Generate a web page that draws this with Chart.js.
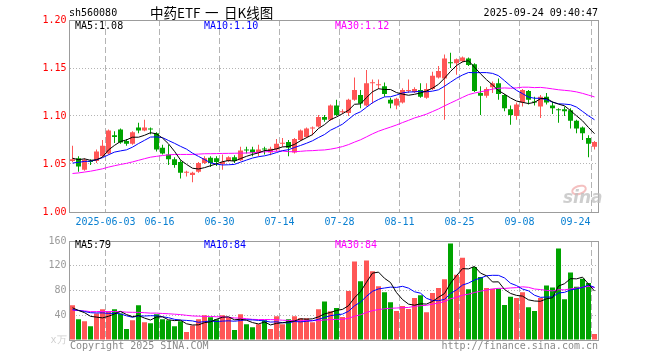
<!DOCTYPE html>
<html>
<head>
<meta charset="utf-8">
<script src="https://cdn.jsdelivr.net/npm/chart.js@4.4.1/dist/chart.umd.min.js"></script>
<style>
  html, body { margin: 0; padding: 0; background: #fff; }
  #wrap { position: relative; width: 660px; height: 360px; }
  #k { position: absolute; left: 0; top: 0; }
  #v { position: absolute; left: 0; top: 232px; }
</style>
</head>
<body>
<div id="wrap">
  <canvas id="k" width="660" height="232"></canvas>
  <canvas id="v" width="660" height="128"></canvas>
</div>
<script>
// trading days shown, 2025-05-23 .. 2025-09-24
const dates = [
  "05-23", "05-26", "05-27", "05-28", "05-29", "05-30",
  "06-03", "06-04", "06-05", "06-06", "06-09", "06-10", "06-11", "06-12", "06-13",
  "06-16", "06-17", "06-18", "06-19", "06-20", "06-23", "06-24", "06-25", "06-26", "06-27", "06-30",
  "07-01", "07-02", "07-03", "07-04", "07-07", "07-08", "07-09", "07-10", "07-11",
  "07-14", "07-15", "07-16", "07-17", "07-18", "07-21", "07-22", "07-23", "07-24", "07-25",
  "07-28", "07-29", "07-30", "07-31", "08-01", "08-04", "08-05", "08-06", "08-07", "08-08",
  "08-11", "08-12", "08-13", "08-14", "08-15", "08-18", "08-19", "08-20", "08-21", "08-22",
  "08-25", "08-26", "08-27", "08-28", "08-29", "09-01", "09-02", "09-03", "09-04", "09-05",
  "09-08", "09-09", "09-10", "09-11", "09-12", "09-15", "09-16", "09-17", "09-18", "09-19",
  "09-22", "09-23", "09-24"
];
const xTickLabels = ["2025-06-03", "06-16", "06-30", "07-14", "07-28", "08-11", "08-25", "09-08", "09-24"];

const open = [
  1.053, 1.056, 1.044, 1.053, 1.053, 1.058, 1.061, 1.080, 1.086, 1.074,
  1.071, 1.088, 1.085, 1.087, 1.082, 1.067, 1.060, 1.055, 1.052, 1.041,
  1.0385, 1.042, 1.051, 1.0566, 1.056, 1.050, 1.053, 1.057, 1.054, 1.065,
  1.065, 1.062, 1.066, 1.062, 1.065, 1.071, 1.073, 1.062, 1.075, 1.078,
  1.087, 1.089, 1.099, 1.096, 1.111, 1.104, 1.103, 1.117, 1.122, 1.111,
  1.134, 1.132, 1.131, 1.117, 1.111, 1.114, 1.126, 1.125, 1.127, 1.119,
  1.128, 1.140, 1.139, 1.156, 1.155, 1.157, 1.160, 1.154, 1.124, 1.121,
  1.130, 1.134, 1.122, 1.107, 1.100, 1.114, 1.126, 1.115, 1.110, 1.120,
  1.111, 1.107, 1.107, 1.106, 1.095, 1.088, 1.077, 1.068
];
const close = [
  1.055, 1.0475, 1.0545, 1.052, 1.063, 1.069, 1.085, 1.078, 1.0725, 1.071,
  1.083, 1.085, 1.088, 1.086, 1.065, 1.061, 1.055, 1.049, 1.041, 1.042,
  1.041, 1.051, 1.056, 1.051, 1.052, 1.052, 1.057, 1.053, 1.064, 1.064,
  1.062, 1.065, 1.065, 1.066, 1.071, 1.072, 1.067, 1.076, 1.085, 1.087,
  1.088, 1.099, 1.096, 1.111, 1.101, 1.105, 1.117, 1.127, 1.113, 1.134,
  1.135, 1.133, 1.123, 1.113, 1.118, 1.127, 1.127, 1.128, 1.120, 1.128,
  1.142, 1.147, 1.160, 1.155, 1.159, 1.161, 1.153, 1.126, 1.121, 1.128,
  1.134, 1.123, 1.108, 1.101, 1.112, 1.127, 1.117, 1.114, 1.120, 1.114,
  1.108, 1.106, 1.105, 1.095, 1.087, 1.082, 1.071, 1.073
];
const high = [
  1.069, 1.058, 1.056, 1.055, 1.065, 1.075, 1.086, 1.084, 1.087, 1.076,
  1.084, 1.093, 1.096, 1.088, 1.083, 1.070, 1.070, 1.057, 1.054, 1.043,
  1.042, 1.052, 1.058, 1.058, 1.058, 1.060, 1.058, 1.059, 1.068, 1.068,
  1.068, 1.070, 1.068, 1.068, 1.076, 1.077, 1.075, 1.077, 1.086, 1.088,
  1.089, 1.101, 1.101, 1.112, 1.117, 1.107, 1.118, 1.140, 1.127, 1.148,
  1.138, 1.138, 1.135, 1.119, 1.119, 1.129, 1.138, 1.130, 1.134, 1.134,
  1.146, 1.152, 1.164, 1.166, 1.160, 1.162, 1.161, 1.155, 1.131, 1.130,
  1.136, 1.139, 1.123, 1.111, 1.114, 1.128, 1.127, 1.120, 1.122, 1.124,
  1.115, 1.108, 1.110, 1.108, 1.096, 1.089, 1.080, 1.074
];
const low = [
  1.052, 1.042, 1.043, 1.049, 1.051, 1.057, 1.060, 1.072, 1.071, 1.069,
  1.070, 1.082, 1.084, 1.081, 1.063, 1.060, 1.049, 1.046, 1.035, 1.037,
  1.031, 1.041, 1.050, 1.047, 1.048, 1.044, 1.052, 1.051, 1.053, 1.061,
  1.058, 1.058, 1.060, 1.059, 1.063, 1.068, 1.058, 1.061, 1.074, 1.077,
  1.080, 1.088, 1.094, 1.095, 1.100, 1.102, 1.100, 1.116, 1.108, 1.110,
  1.113, 1.128, 1.120, 1.108, 1.107, 1.113, 1.124, 1.124, 1.119, 1.118,
  1.127, 1.139, 1.096, 1.150, 1.143, 1.156, 1.152, 1.125, 1.101, 1.119,
  1.124, 1.117, 1.105, 1.091, 1.096, 1.110, 1.112, 1.111, 1.098, 1.112,
  1.102, 1.093, 1.100, 1.087, 1.082, 1.075, 1.057, 1.065
];
// volume, 万
const volume = [
  56, 33.6, 30.4, 22.4, 42.7, 49.6, 46.4, 49.6, 42.7, 17.6,
  32, 56, 28.8, 27.2, 41.6, 33.6, 32, 22.4, 30.4, 12.8,
  23.5, 33.6, 40, 36.8, 33.6, 40, 36.8, 16, 41.6, 25.6,
  20.8, 25.6, 32, 17.6, 38.4, 25.6, 33.6, 38.4, 35.2, 35.2,
  28.8, 49.6, 62.4, 46.4, 51.7, 37.3, 79, 127, 95, 128.5,
  111, 87, 77, 61, 47, 55, 50, 68, 72.5, 45,
  76, 84, 98, 156, 105.6, 133, 82, 118, 102, 84,
  83, 83, 56.5, 70, 68, 77, 53, 47, 68, 88,
  85, 148, 66, 109, 86, 99, 92, 9.6
];
// estimated closes / volumes of the 29 sessions before the window (only feed the MA lines)
const earlierClose = [
  1.030, 1.028, 1.025, 1.027, 1.030, 1.032, 1.035, 1.033, 1.036, 1.038,
  1.035, 1.037, 1.040, 1.038, 1.036, 1.034, 1.037, 1.040, 1.042, 1.041,
  1.040, 1.045, 1.050, 1.048, 1.047, 1.055, 1.050, 1.060, 1.060
];
const earlierVolume = [
  52, 45, 60, 41, 38, 55, 47, 50, 43, 39,
  58, 44, 49, 40, 52, 46, 43, 50, 48, 55,
  44, 50, 41, 47, 48, 55, 48, 52, 49
];
const priceLegend = ["MA5:1.08", "MA10:1.10", "MA30:1.12"];
const volumeLegend = ["MA5:79", "MA10:84", "MA30:84"];

const RED = "#ff5656";
const GREEN = "#00a400";
const GRID = "#b4b4b4";
const MONO = '"DejaVu Sans Mono", monospace';

function movingAvg(prior, vals, n) {
  const all = prior.concat(vals);
  return vals.map(function (_, i) {
    const end = prior.length + i + 1;
    let s = 0;
    for (let j = end - n; j < end; j++) s += all[j];
    return s / n;
  });
}

const colors = close.map((c, i) => (c >= open[i] ? RED : GREEN));
const bodies = open.map((o, i) => [o, close[i]]);
const wicks = low.map((l, i) => [l, high[i]]);

// grid lines sit on the left edge of the labelled sessions
const tickIndex = xTickLabels.map(t => dates.indexOf(t.slice(-5)));

function xGridColor(ctx) {
  return tickIndex.indexOf(ctx.index) > -1 ? GRID : "rgba(0,0,0,0)";
}
function yGridColor(ctx) {
  return ctx.index > 0 && ctx.index < 4 ? GRID : "rgba(0,0,0,0)";
}

function frame(chart) {
  const ctx = chart.ctx, ca = chart.chartArea;
  const x0 = Math.floor(ca.left) + 0.5, y0 = Math.floor(ca.top) + 0.5;
  const x1 = Math.ceil(ca.right) + 0.5, y1 = Math.floor(ca.bottom) + 0.5;
  ctx.save();
  ctx.strokeStyle = "#9c9c9c";
  ctx.lineWidth = 1;
  ctx.strokeRect(x0, y0, x1 - x0, y1 - y0);
  ctx.restore();
}

function legend(chart, texts, y) {
  const ctx = chart.ctx;
  const xs = [75, 204, 335];
  const cols = ["#000000", "#0000ff", "#ff00ff"];
  ctx.save();
  ctx.font = "10px " + MONO;
  ctx.textBaseline = "middle";
  ctx.textAlign = "left";
  texts.forEach((t, i) => {
    ctx.fillStyle = cols[i];
    ctx.fillText(t, xs[i], y);
  });
  ctx.restore();
}

const lineDefaults = { type: "line", borderWidth: 1, pointRadius: 0, tension: 0, order: 0 };

const priceDecor = {
  id: "priceDecor",
  afterDraw(chart) {
    const ctx = chart.ctx;
    const xs = chart.scales.x;
    frame(chart);
    legend(chart, priceLegend, 26);

    ctx.save();
    // header
    ctx.fillStyle = "#000";
    ctx.textBaseline = "middle";
    ctx.font = "10px " + MONO;
    ctx.textAlign = "left";
    ctx.fillText("sh560080", 69, 13);
    ctx.textAlign = "right";
    ctx.fillText("2025-09-24 09:40:47", 598, 13);
    ctx.font = '13.5px "Noto Sans CJK SC"';
    ctx.textAlign = "left";
    ctx.fillText("中药ETF", 150, 13);
    ctx.fillText("一", 205, 13);
    ctx.fillText("日K线图", 224, 13);

    // date labels, centred on their grid line, last one kept inside
    const half = (xs.getPixelForValue(1) - xs.getPixelForValue(0)) / 2;
    ctx.font = "10px " + MONO;
    ctx.fillStyle = "#0a80d2";
    xTickLabels.forEach((t, k) => {
      const x = xs.getPixelForValue(tickIndex[k]) - half;
      if (k === xTickLabels.length - 1) {
        ctx.textAlign = "right";
        ctx.fillText(t, x - 1, 222);
      } else {
        ctx.textAlign = "center";
        ctx.fillText(t, x, 222);
      }
    });

    // sina watermark
    ctx.strokeStyle = "rgba(235,140,140,0.55)";
    ctx.lineWidth = 2;
    ctx.beginPath();
    ctx.ellipse(579, 190, 7, 4, -0.3, 0, Math.PI * 2);
    ctx.stroke();
    ctx.font = 'italic bold 17px "DejaVu Sans"';
    ctx.fillStyle = "rgba(190,190,190,0.75)";
    ctx.textAlign = "left";
    ctx.fillText("sina", 563, 199);
    ctx.restore();
  }
};

const volumeDecor = {
  id: "volumeDecor",
  afterDraw(chart) {
    const ctx = chart.ctx;
    frame(chart);
    legend(chart, volumeLegend, 13.5);
    ctx.save();
    ctx.font = "10px " + MONO;
    ctx.textBaseline = "middle";
    ctx.fillStyle = "#8a8a8a";
    ctx.textAlign = "left";
    ctx.fillText("Copyright 2025 SINA.COM", 70, 114);
    ctx.textAlign = "right";
    ctx.fillText("http://finance.sina.com.cn", 598, 114);
    ctx.restore();
  }
};

function xScale() {
  return {
    type: "category",
    offset: true,
    grid: { offset: true, color: xGridColor, lineWidth: 1, drawTicks: false },
    border: { display: false, dash: [6, 3] },
    ticks: { display: false, autoSkip: false },
    afterFit(scale) { scale.height = 20; }
  };
}

new Chart(document.getElementById("k").getContext("2d"), {
  type: "bar",
  data: {
    labels: dates,
    datasets: [
      Object.assign({ data: movingAvg(earlierClose, close, 5), borderColor: "#000000" }, lineDefaults),
      Object.assign({ data: movingAvg(earlierClose, close, 10), borderColor: "#0000ff" }, lineDefaults),
      Object.assign({ data: movingAvg(earlierClose, close, 30), borderColor: "#ff00ff" }, lineDefaults),
      {
        data: bodies, backgroundColor: colors, barPercentage: 5 / 6, categoryPercentage: 1,
        minBarLength: 1, grouped: false, inflateAmount: 0, order: 1
      },
      {
        data: wicks, backgroundColor: colors, barThickness: 1,
        grouped: false, inflateAmount: 0, order: 2
      }
    ]
  },
  options: {
    responsive: false,
    animation: false,
    events: [],
    layout: { padding: { left: 0, right: 62.5, top: 20, bottom: 0 } },
    plugins: { legend: { display: false }, tooltip: { enabled: false } },
    scales: {
      x: xScale(),
      y: {
        min: 1.0, max: 1.2,
        grid: { color: yGridColor, drawTicks: false },
        border: { display: false, dash: [1, 2] },
        ticks: {
          stepSize: 0.05, padding: 3, color: "#ff0000",
          font: { family: MONO, size: 10 },
          callback: v => Number(v).toFixed(2)
        },
        afterFit(scale) { scale.width = 69.5; }
      }
    }
  },
  plugins: [priceDecor]
});

new Chart(document.getElementById("v").getContext("2d"), {
  type: "bar",
  data: {
    labels: dates,
    datasets: [
      Object.assign({ data: movingAvg(earlierVolume, volume, 5), borderColor: "#000000" }, lineDefaults),
      Object.assign({ data: movingAvg(earlierVolume, volume, 10), borderColor: "#0000ff" }, lineDefaults),
      Object.assign({ data: movingAvg(earlierVolume, volume, 30), borderColor: "#ff00ff" }, lineDefaults),
      {
        data: volume, backgroundColor: colors, barPercentage: 5 / 6, categoryPercentage: 1,
        grouped: false, inflateAmount: 0, order: 1
      }
    ]
  },
  options: {
    responsive: false,
    animation: false,
    events: [],
    layout: { padding: { left: 0, right: 62.5, top: 8, bottom: 0 } },
    plugins: { legend: { display: false }, tooltip: { enabled: false } },
    scales: {
      x: xScale(),
      y: {
        min: 0, max: 160,
        grid: { color: yGridColor, drawTicks: false },
        border: { display: false, dash: [1, 2] },
        ticks: {
          stepSize: 40, padding: 3,
          color: ctx => (ctx.tick && ctx.tick.value === 0 ? "#cfcfcf" : "#9a9a9a"),
          font: { family: MONO, size: 10 },
          callback: v => (v === 0 ? "x万" : v)
        },
        afterFit(scale) { scale.width = 69.5; }
      }
    }
  },
  plugins: [volumeDecor]
});
</script>
</body>
</html>
